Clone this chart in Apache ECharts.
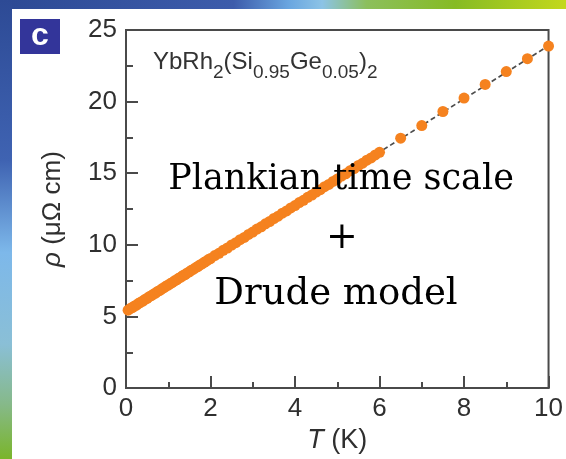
<!DOCTYPE html>
<html>
<head>
<meta charset="utf-8">
<script src="https://cdn.jsdelivr.net/npm/echarts@6/dist/echarts.min.js"></script>
<style>
  html, body { margin: 0; padding: 0; background: #ffffff; }
  #chart { width: 566px; height: 459px; }
</style>
</head>
<body>
<div id="chart"></div>
<script>
// Temperature (K) of each resistivity measurement
const tempK = [
  0.05, 0.10, 0.15, 0.20, 0.25, 0.30, 0.35, 0.40, 0.45, 0.50,
  0.55, 0.60, 0.65, 0.70, 0.75, 0.80, 0.85, 0.90, 0.95, 1.00,
  1.05, 1.10, 1.15, 1.20, 1.25, 1.30, 1.35, 1.40, 1.45, 1.50,
  1.55, 1.60, 1.65, 1.70, 1.75, 1.80, 1.85, 1.90, 1.95, 2.00,
  2.1, 2.2, 2.3, 2.4, 2.5, 2.6, 2.7, 2.8, 2.9, 3.0,
  3.1, 3.2, 3.3, 3.4, 3.5, 3.6, 3.7, 3.8, 3.9, 4.0,
  4.1, 4.2, 4.3, 4.4, 4.5, 4.6, 4.7, 4.8, 4.9, 5.0,
  5.1, 5.2, 5.3, 5.4, 5.5, 5.6, 5.7, 5.8, 5.9, 6.0,
  6.5, 7.0, 7.5, 8.0, 8.5, 9.0, 9.5, 10.0
];

// Resistivity rho (µΩ cm)
const rhoVals = [
  5.44, 5.55, 5.62, 5.73, 5.80, 5.92, 6.00, 6.08, 6.19, 6.27,
  6.38, 6.45, 6.56, 6.64, 6.75, 6.82, 6.93, 7.01, 7.12, 7.19,
  7.30, 7.38, 7.49, 7.56, 7.67, 7.75, 7.86, 7.93, 8.04, 8.12,
  8.23, 8.30, 8.41, 8.49, 8.60, 8.67, 8.78, 8.86, 8.97, 9.04,
  9.25, 9.41, 9.62, 9.78, 9.99, 10.15, 10.36, 10.52, 10.73, 10.89,
  11.10, 11.26, 11.47, 11.63, 11.84, 12.00, 12.21, 12.37, 12.58, 12.74,
  12.95, 13.11, 13.32, 13.48, 13.69, 13.85, 14.06, 14.22, 14.43, 14.59,
  14.80, 14.96, 15.17, 15.33, 15.54, 15.70, 15.91, 16.07, 16.28, 16.46,
  17.45, 18.33, 19.31, 20.25, 21.20, 22.10, 23.00, 23.88
];

// Linear fit drawn as a dashed guide
const fitT = [0, 10];
const fitRho = [5.35, 23.9];

// Axis ranges and tick steps
const xRange = [0, 10];
const xStep = 2;
const yRange = [0, 25];
const yStep = 5;

const points = tempK.map((t, i) => [t, rhoVals[i]]);
const fitPoints = fitT.map((t, i) => [t, fitRho[i]]);

const axisColor = '#4a4a4a';
const labelColor = '#2f2f2f';
const sansFont = '"Liberation Sans", Arial, sans-serif';
const scriptFont = '"DejaVu Serif", "Liberation Serif", serif';

const chart = echarts.init(document.getElementById('chart'), null, { renderer: 'canvas' });

chart.setOption({
  backgroundColor: '#ffffff',
  animation: false,
  grid: {
    left: 126, right: 10, top: 30, bottom: 70,
    show: true,
    borderColor: axisColor,
    borderWidth: 2,
    backgroundColor: 'transparent'
  },
  xAxis: {
    type: 'value',
    min: xRange[0], max: xRange[1], interval: xStep,
    name: '{i|T} (K)',
    nameLocation: 'middle',
    nameGap: 36,
    nameTextStyle: {
      fontFamily: sansFont, fontSize: 27, color: labelColor,
      rich: { i: { fontFamily: sansFont, fontSize: 27, fontStyle: 'italic', color: labelColor } }
    },
    axisLine: { show: true, lineStyle: { color: axisColor, width: 2 } },
    axisTick: { show: true, inside: true, length: 12, lineStyle: { color: axisColor, width: 2 } },
    minorTick: { show: true, splitNumber: 2, length: 6, lineStyle: { color: axisColor, width: 2 } },
    splitLine: { show: false },
    axisLabel: { fontFamily: sansFont, fontSize: 26, color: labelColor, margin: 8, showMaxLabel: true }
  },
  yAxis: {
    type: 'value',
    min: yRange[0], max: yRange[1], interval: yStep,
    name: '{i|ρ} (μΩ cm)',
    nameLocation: 'middle',
    nameGap: 60,
    nameRotate: 90,
    nameTextStyle: {
      fontFamily: sansFont, fontSize: 26, color: labelColor,
      rich: { i: { fontFamily: sansFont, fontSize: 26, fontStyle: 'italic', color: labelColor } }
    },
    axisLine: { show: true, lineStyle: { color: axisColor, width: 2 } },
    axisTick: { show: true, inside: true, length: 12, lineStyle: { color: axisColor, width: 2 } },
    minorTick: { show: true, splitNumber: 2, length: 7, lineStyle: { color: axisColor, width: 2 } },
    splitLine: { show: false },
    axisLabel: { fontFamily: sansFont, fontSize: 26, color: labelColor, margin: 9, showMaxLabel: true }
  },
  series: [
    {
      type: 'line',
      data: fitPoints,
      showSymbol: false,
      silent: true,
      z: 2,
      lineStyle: { color: '#4d4d4d', width: 1.7, type: [5, 3] }
    },
    {
      type: 'scatter',
      data: points,
      symbol: 'circle',
      symbolSize: 11,
      z: 3,
      itemStyle: { color: '#f5821f', opacity: 1 }
    }
  ],
  graphic: [
    // slide backdrop: top band and left band
    {
      type: 'rect', z: -20, silent: true,
      shape: { x: 0, y: 0, width: 566, height: 459 },
      style: {
        fill: {
          type: 'linear', x: 0, y: 0, x2: 0, y2: 1,
          colorStops: [
            { offset: 0, color: '#2d4a95' },
            { offset: 0.35, color: '#3f63b2' },
            { offset: 0.55, color: '#7db8ea' },
            { offset: 0.75, color: '#8abfd6' },
            { offset: 0.88, color: '#86b98a' },
            { offset: 1, color: '#7ab52a' }
          ]
        }
      }
    },
    {
      type: 'rect', z: -19, silent: true,
      shape: { x: 12, y: 0, width: 554, height: 9 },
      style: {
        fill: {
          type: 'linear', x: 0, y: 0, x2: 1, y2: 0,
          colorStops: [
            { offset: 0, color: '#2d4a95' },
            { offset: 0.4, color: '#3d5cab' },
            { offset: 0.5, color: '#6aa6e0' },
            { offset: 0.56, color: '#8cc3e6' },
            { offset: 0.64, color: '#8cbf5c' },
            { offset: 0.8, color: '#86bb24' },
            { offset: 1, color: '#c3d81c' }
          ]
        }
      }
    },
    {
      type: 'rect', z: -18, silent: true,
      shape: { x: 12, y: 9, width: 554, height: 450 },
      style: { fill: '#ffffff' }
    },
    // panel letter
    {
      type: 'rect', z: 10, silent: true,
      shape: { x: 20, y: 19, width: 40, height: 35 },
      style: { fill: '#33359a' }
    },
    {
      type: 'text', z: 11, silent: true,
      x: 40, y: 36,
      style: {
        text: 'c', fill: '#ffffff',
        font: 'bold 32px "Liberation Sans", Arial, sans-serif',
        align: 'center', verticalAlign: 'middle'
      }
    },
    // compound name
    {
      type: 'text', z: 10, silent: true,
      x: 153, y: 50,
      style: {
        text: '{n|YbRh}{s|2}{n|(Si}{s|0.95}{n|Ge}{s|0.05}{n|)}{s|2}',
        align: 'left', verticalAlign: 'top',
        rich: {
          n: { fontFamily: sansFont, fontSize: 24, fill: '#333333', lineHeight: 27, verticalAlign: 'top' },
          s: { fontFamily: sansFont, fontSize: 19, fill: '#333333', lineHeight: 19, padding: [13, 0, 0, 0], verticalAlign: 'top' }
        }
      }
    },
    // overlay caption
    {
      type: 'text', z: 20, silent: true,
      x: 341, y: 180,
      style: {
        text: 'Plankian time scale', fill: '#000000',
        font: '35px ' + scriptFont,
        align: 'center', verticalAlign: 'middle'
      }
    },
    {
      type: 'text', z: 20, silent: true,
      x: 342, y: 238,
      style: {
        text: '+', fill: '#000000',
        font: '38px ' + scriptFont,
        align: 'center', verticalAlign: 'middle'
      }
    },
    {
      type: 'text', z: 20, silent: true,
      x: 336, y: 294,
      style: {
        text: 'Drude model', fill: '#000000',
        font: '37px ' + scriptFont,
        align: 'center', verticalAlign: 'middle'
      }
    }
  ]
});
</script>
</body>
</html>
